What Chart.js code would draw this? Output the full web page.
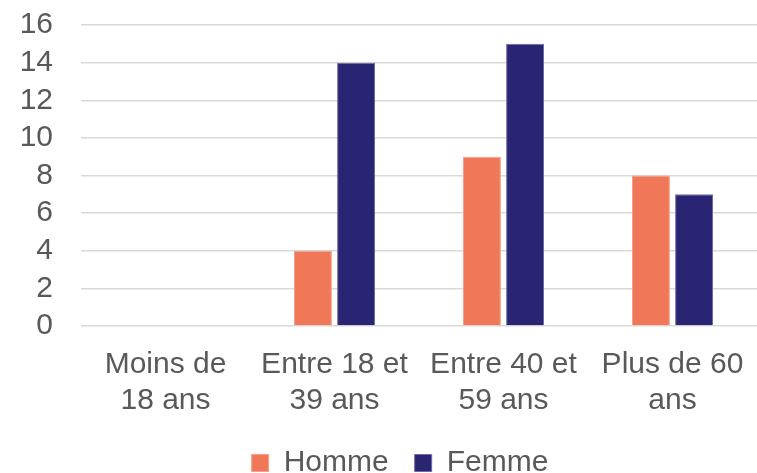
<!DOCTYPE html>
<html>
<head>
<meta charset="utf-8">
<script src="https://cdn.jsdelivr.net/npm/chart.js@4"></script>
<style>
  html, body { margin: 0; padding: 0; background: #fff; }
  #wrap { width: 757px; height: 473px; }
</style>
</head>
<body>
<div id="wrap"><canvas id="ageChart"></canvas></div>
<script>
const categories = [['Moins de', '18 ans'], ['Entre 18 et', '39 ans'], ['Entre 40 et', '59 ans'], ['Plus de 60', 'ans']];
const homme = [0, 4, 9, 8];
const femme = [0, 14, 15, 7];

const textColor = '#595959';
const fontFamily = 'Liberation Sans, Arial, sans-serif';

// nudge the legend a bit to the right, like the original
const legendShift = {
    id: 'legendShift',
    beforeDraw: function(chart) {
        if (chart.legend) chart.legend.left = 43;
    }
};

const ctx = document.getElementById('ageChart');
const ageChart = new Chart(ctx, {
    type: 'bar',
    data: {
        labels: categories,
        datasets: [{
            label: 'Homme',
            data: homme,
            backgroundColor: '#f07858',
            borderColor: '#f5a08a',
            borderWidth: 1,
            barPercentage: 0.88,
            categoryPercentage: 0.51
        }, {
            label: 'Femme',
            data: femme,
            backgroundColor: '#2a2573',
            borderColor: '#6f6aa6',
            borderWidth: 1,
            barPercentage: 0.88,
            categoryPercentage: 0.51
        }]
    },
    options: {
        responsive: true,
        maintainAspectRatio: false,
        animation: false,
        layout: {
            padding: { top: 25, right: 0, bottom: -15, left: 0 }
        },
        scales: {
            x: {
                grid: { display: false },
                border: { display: false },
                afterFit: function(scale) { scale.height = 96; },
                ticks: {
                    color: textColor,
                    maxRotation: 0,
                    autoSkip: false,
                    padding: 13,
                    font: { family: fontFamily, size: 30, lineHeight: 1.2 }
                }
            },
            y: {
                min: 0,
                max: 16,
                border: { display: false },
                grid: { color: '#d9d9d9', lineWidth: 1.5, drawTicks: false },
                afterFit: function(scale) {
                    scale.width = 81;
                    scale.paddingTop = 0;
                    scale.paddingBottom = 0;
                },
                ticks: {
                    stepSize: 2,
                    autoSkip: false,
                    color: textColor,
                    padding: 28,
                    font: { family: fontFamily, size: 30 }
                }
            }
        },
        plugins: {
            tooltip: { enabled: false },
            legend: {
                position: 'bottom',
                labels: {
                    color: textColor,
                    boxWidth: 17,
                    boxHeight: 17,
                    padding: 26,
                    font: { family: fontFamily, size: 30 }
                }
            }
        }
    },
    plugins: [legendShift]
});
</script>
</body>
</html>
